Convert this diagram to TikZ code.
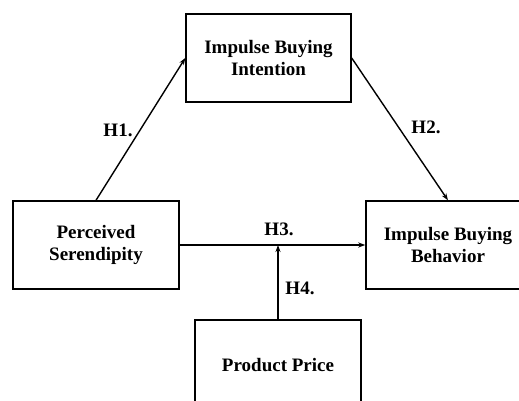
\documentclass[tikz,border=0pt]{standalone}
\usepackage{fontspec}
\setmainfont{Liberation Serif}
\usetikzlibrary{arrows.meta}
\begin{document}
\begin{tikzpicture}[x=1pt,y=-1pt,
  box/.style={draw,line width=1.4pt,align=center,inner sep=0pt,
    font=\fontsize{19}{22.5}\selectfont\bfseries},
  conn/.style={line width=1.4pt,-{Stealth[length=7pt,width=5pt]}},
  hlab/.style={font=\fontsize{19}{22}\selectfont\bfseries}]
\useasboundingbox (0,0) rectangle (519,401);
\node[box,minimum width=165pt,minimum height=88pt] (ibi) at (268.5,58) {Impulse Buying\\Intention};
\node[box,minimum width=166pt,minimum height=88pt] (ps) at (96,245) {Perceived\\Serendipity};
\node[box,minimum width=164pt,minimum height=88pt] (ibb) at (448,245) {Impulse Buying\\Behavior};
\node[box,minimum width=166pt,minimum height=90pt] (pp) at (278,365) {Product Price};
\coordinate (h4end) at (278,245);
\draw[conn] (ps.north) -- (ibi.west);
\draw[conn] (ibi.east) -- (ibb.north);
\draw[conn] (ps.east) -- (ibb.west);
\draw[conn] (pp.north) -- (h4end);
\node[hlab] (l1) at (118,130) {H1.};
\node[hlab] (l2) at (426,127) {H2.};
\node[hlab] (l3) at (279,229) {H3.};
\node[hlab] (l4) at (300,288) {H4.};
\end{tikzpicture}
\end{document}
